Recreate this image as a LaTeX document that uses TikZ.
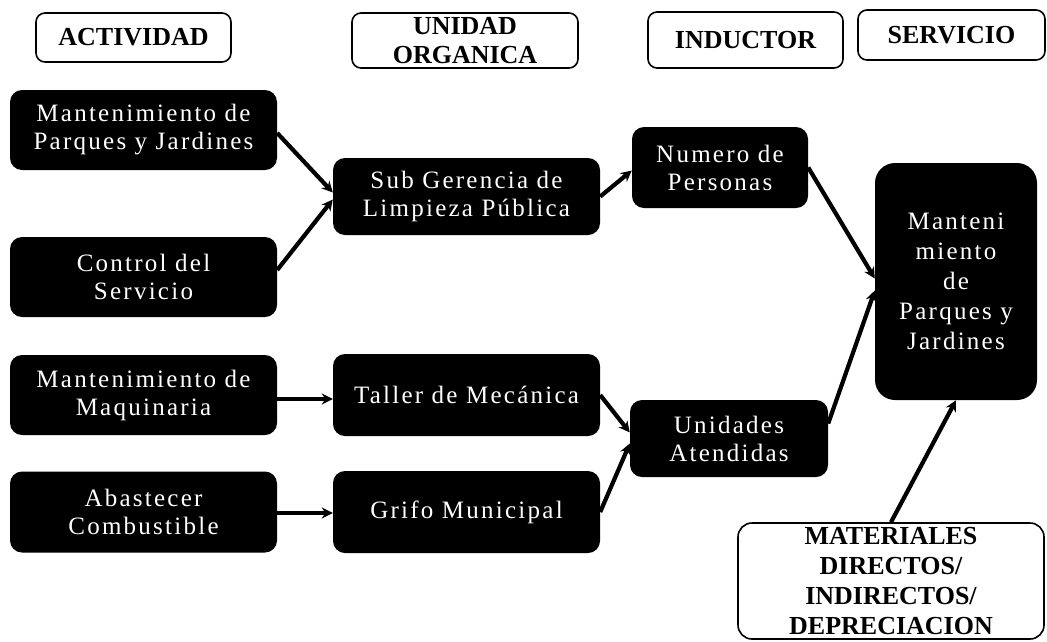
\documentclass[tikz,border=0pt]{standalone}
\usepackage{fontspec}
\setmainfont{Liberation Serif}
\newfontfamily\boxfont[LetterSpace=9]{Liberation Serif}
\usetikzlibrary{arrows.meta,calc}
\begin{document}
\begin{tikzpicture}[x=1pt, y=-1pt, line join=round, line cap=round, >={Stealth[length=11pt,width=11pt]}]
	\tikzset{head/.style={draw=black, line width=1.6pt, fill=white, rounded corners=9pt, align=center, inner sep=0pt, font=\fontsize{26}{29}\selectfont\bfseries},
		blk/.style={fill=black, text=white, rounded corners=12pt, align=center, inner sep=0pt, font=\boxfont\fontsize{25}{28}\selectfont},
		flow/.style={->, line width=4.2pt, line cap=butt}}
	\useasboundingbox (0,0) rectangle (1047,641);
	% cabeceras
	\node[head, minimum width=195, minimum height=49] (act) at (133.5,37.5) {ACTIVIDAD};
	\node[head, minimum width=226, minimum height=55] (uni) at (465,40.5) {UNIDAD\\ORGANICA};
	\node[head, minimum width=195, minimum height=56] (ind) at (745.5,40) {INDUCTOR};
	\node[head, minimum width=187, minimum height=50] (ser) at (951.5,35) {SERVICIO};
	% actividades
	\node[blk, minimum width=267, minimum height=80] (mpj) at (143.5,130) {Mantenimiento de\\Parques y Jardines};
	\node[blk, minimum width=267, minimum height=80] (cds) at (143.5,277) {Control del\\Servicio};
	\node[blk, minimum width=267, minimum height=80] (mdm) at (143.5,395) {Mantenimiento de\\Maquinaria};
	\node[blk, minimum width=267, minimum height=81] (abc) at (143.5,512) {Abastecer\\Combustible};
	% unidades organicas
	\node[blk, minimum width=267, minimum height=77] (sgl) at (466.5,196.5) {Sub Gerencia de\\Limpieza Pública};
	\node[blk, minimum width=267, minimum height=82] (tdm) at (466.5,395) {Taller de Mecánica};
	\node[blk, minimum width=267, minimum height=82] (grm) at (466.5,512) {Grifo Municipal};
	% inductores
	\node[blk, minimum width=176, minimum height=81] (ndp) at (720,167.5) {Numero de\\Personas};
	\node[blk, minimum width=198, minimum height=77] (uat) at (729,438.5) {Unidades\\Atendidas};
	% servicio
	\node[blk, rounded corners=20pt, minimum width=162, minimum height=237, font=\boxfont\fontsize{25}{30}\selectfont] (mant) at (956,281.5) {Manteni\\miento\\de\\Parques y\\Jardines};
	\node[head, rounded corners=14pt, minimum width=306, minimum height=116, font=\fontsize{26}{30}\selectfont\bfseries] (mat) at (891,581) {MATERIALES\\DIRECTOS/\\INDIRECTOS/\\DEPRECIACION};
	% flechas
	\draw[flow] ($(mpj.east)+(0,3)$) -- ($(sgl.west)+(0,-4)$);
	\draw[flow] ($(cds.east)+(0,-7)$) -- ($(sgl.west)+(0,3)$);
	\draw[flow] ($(mdm.east)+(0,4)$) -- ($(tdm.west)+(0,4)$);
	\draw[flow] ($(abc.east)+(0,1)$) -- ($(grm.west)+(0,1)$);
	\draw[flow] (sgl.east) -- ($(ndp.west)+(0,3)$);
	\draw[flow] (tdm.east) -- ($(uat.west)+(0,-6)$);
	\draw[flow] (grm.east) -- ($(uat.west)+(0,5)$);
	\draw[flow] (ndp.east) -- ($(mant.west)+(0,-3)$);
	\draw[flow] ($(uat.east)+(0,-15)$) -- ($(mant.west)+(0,9)$);
	\draw[flow] (mat.north) -- (mant.south);
\end{tikzpicture}
\end{document}
